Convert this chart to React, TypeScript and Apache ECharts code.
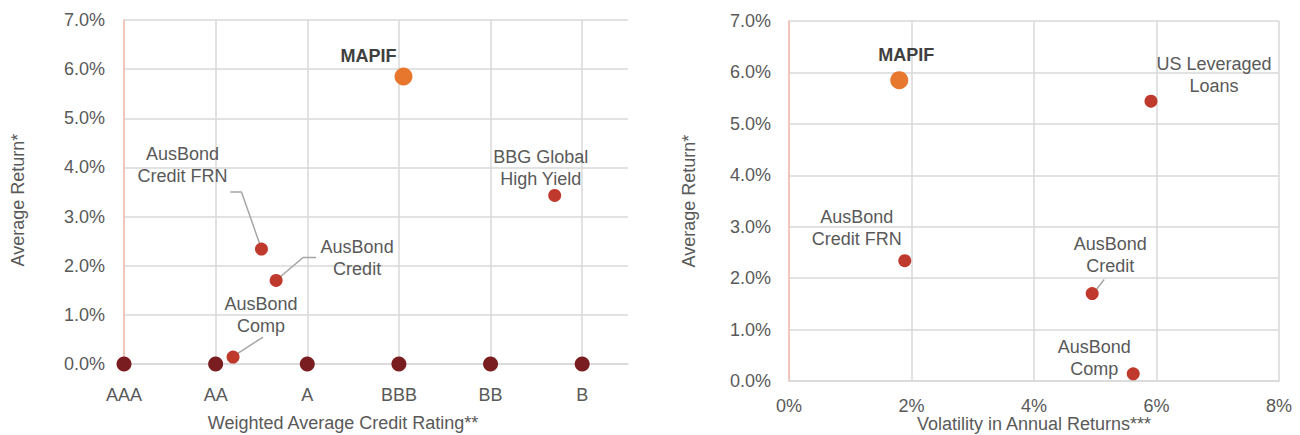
import React, { useEffect, useRef } from "react";
import * as echarts from "echarts";

// Credit rating scale shown along the left chart's x axis
const ratingScale = ["AAA", "AA", "A", "BBB", "BB", "B"];
const ratingMarkerReturns = [0, 0, 0, 0, 0, 0];

// Funds and indices shared by both charts (returns in %)
const fundNames = ["MAPIF", "AusBond\nCredit FRN", "AusBond\nCredit", "AusBond\nComp"];
const fundReturns = [5.85, 2.34, 1.7, 0.14];
const fundRatings = [3.05, 1.5, 1.66, 1.19];
const fundVolatility = [1.8, 1.89, 4.95, 5.62];

// Extra comparison index on each chart
const highYieldName = "BBG Global\nHigh Yield";
const highYieldRating = 4.7;
const highYieldReturn = 3.43;

const leveragedName = "US Leveraged\nLoans";
const leveragedVolatility = 5.91;
const leveragedReturn = 5.44;

// Axis tick settings
const returnMin = 0;
const returnMax = 7;
const returnStep = 1;
const volatilityMin = 0;
const volatilityMax = 8;
const volatilityStep = 2;

// Label placement (pixel offsets from each marker)
const leftLabelOffsets: Record<string, number[]> = {
  MAPIF: [-35, -21],
  "AusBond\nCredit FRN": [-79, -84],
  "AusBond\nCredit": [81, -22],
  "AusBond\nComp": [28, -42],
  "BBG Global\nHigh Yield": [-14, -27],
};
const rightLabelOffsets: Record<string, number[]> = {
  MAPIF: [7, -25],
  "AusBond\nCredit FRN": [-48, -33],
  "AusBond\nCredit": [18, -39],
  "AusBond\nComp": [-39, -16],
  "US Leveraged\nLoans": [63, -26],
};
// Leader lines (pixel offsets from each marker)
const leftLeaders: Record<string, number[][]> = {
  "AusBond\nCredit FRN": [[-1, -3], [-20, -57], [-31, -57]],
  "AusBond\nCredit": [[1, -1], [27, -23], [40, -23]],
  "AusBond\nComp": [[2, -2], [30, -20]],
};
const rightLeaders: Record<string, number[][]> = {
  "AusBond\nCredit": [[1, 0], [12, -14]],
};

const FONT = "'Liberation Sans', Arial, sans-serif";
const TEXT = "#595959";
const GRID = "#D9D9D9";
const AXIS_ACCENT = "#F4BDAE";
const ORANGE = "#E8772E";
const RED = "#C0392D";
const MAROON = "#7A1D21";

function labelFor(name: string, offsets: Record<string, number[]>) {
  const bold = name === "MAPIF";
  return {
    show: true,
    position: "inside",
    formatter: name,
    offset: offsets[name] || [0, 0],
    fontFamily: FONT,
    fontSize: 18,
    lineHeight: 22,
    fontWeight: bold ? "bold" : "normal",
    color: bold ? "#404040" : TEXT,
    align: "center",
    verticalAlign: "middle",
  };
}

export default function App() {
  const ref = useRef<HTMLDivElement>(null);

  useEffect(() => {
    if (!ref.current) return;
    const chart = echarts.init(ref.current, undefined, { renderer: "svg" });

    const axisLabel = { fontFamily: FONT, fontSize: 18, lineHeight: 18, color: TEXT };
    const nameStyle = { fontFamily: FONT, fontSize: 18, lineHeight: 18, color: TEXT };
    const split = { show: true, lineStyle: { color: GRID, width: 1.5 } };

    const leftPoints = fundNames.map((n, i) => ({
      name: n,
      value: [fundRatings[i], fundReturns[i]],
    }));
    leftPoints.push({ name: highYieldName, value: [highYieldRating, highYieldReturn] });
    const rightPoints = fundNames.map((n, i) => ({
      name: n,
      value: [fundVolatility[i], fundReturns[i]],
    }));
    rightPoints.push({ name: leveragedName, value: [leveragedVolatility, leveragedReturn] });

    const decorate = (pts: { name: string; value: number[] }[], offsets: Record<string, number[]>) =>
      pts.map((p) => ({
        name: p.name,
        value: p.value,
        symbolSize: p.name === "MAPIF" ? 18 : 13,
        itemStyle: { color: p.name === "MAPIF" ? ORANGE : RED, opacity: 1 },
        label: labelFor(p.name, offsets),
      }));

    chart.setOption({
      animation: false,
      backgroundColor: "#ffffff",
      grid: [
        { left: 124, top: 20, width: 504, height: 344, outerBoundsMode: "none", containLabel: false },
        { left: 789, top: 21, width: 490, height: 360, outerBoundsMode: "none", containLabel: false },
      ],
      xAxis: [
        {
          type: "value",
          gridIndex: 0,
          min: 0,
          max: 5.5,
          interval: 1,
          axisLine: { show: true, lineStyle: { color: GRID, width: 1.5 } },
          axisTick: { show: false },
          splitLine: { ...split, showMaxLine: false },
          axisLabel: {
            ...axisLabel,
            margin: 22,
            showMaxLabel: false,
            formatter: (v: number) => (Number.isInteger(v) ? ratingScale[v] ?? "" : ""),
          },
          name: "Weighted Average Credit Rating**",
          nameLocation: "middle",
          nameGap: 50,
          nameMoveOverlap: false,
          nameTextStyle: { ...nameStyle, padding: [0, 66, 0, 0] },
        },
        {
          type: "value",
          gridIndex: 1,
          min: volatilityMin,
          max: volatilityMax,
          interval: volatilityStep,
          axisLine: { show: true, lineStyle: { color: GRID, width: 1.5 } },
          axisTick: { show: false },
          splitLine: split,
          axisLabel: { ...axisLabel, margin: 16, formatter: (v: number) => `${v}%` },
          name: "Volatility in Annual Returns***",
          nameLocation: "middle",
          nameGap: 34,
          nameMoveOverlap: false,
          nameTextStyle: nameStyle,
        },
      ],
      yAxis: [
        {
          type: "value",
          gridIndex: 0,
          min: returnMin,
          max: returnMax,
          interval: returnStep,
          axisLine: { show: true, lineStyle: { color: AXIS_ACCENT, width: 1.5 } },
          axisTick: { show: false },
          splitLine: split,
          axisLabel: { ...axisLabel, margin: 19, formatter: (v: number) => `${v.toFixed(1)}%` },
          name: "Average Return*",
          nameLocation: "middle",
          nameRotate: 90,
          nameGap: 97,
          nameMoveOverlap: false,
          nameTextStyle: { ...nameStyle, padding: [0, 16, 0, 0] },
        },
        {
          type: "value",
          gridIndex: 1,
          min: returnMin,
          max: returnMax,
          interval: returnStep,
          axisLine: { show: true, lineStyle: { color: AXIS_ACCENT, width: 1.5 } },
          axisTick: { show: false },
          splitLine: split,
          axisLabel: { ...axisLabel, margin: 18, formatter: (v: number) => `${v.toFixed(1)}%` },
          name: "Average Return*",
          nameLocation: "middle",
          nameRotate: 90,
          nameGap: 91,
          nameMoveOverlap: false,
          nameTextStyle: nameStyle,
        },
      ],
      series: [
        {
          type: "scatter",
          xAxisIndex: 0,
          yAxisIndex: 0,
          symbolSize: 15,
          itemStyle: { color: MAROON, opacity: 1 },
          data: ratingMarkerReturns.map((r, i) => [i, r]),
          z: 3,
        },
        {
          type: "scatter",
          xAxisIndex: 0,
          yAxisIndex: 0,
          data: decorate(leftPoints, leftLabelOffsets),
          z: 4,
        },
        {
          type: "scatter",
          xAxisIndex: 1,
          yAxisIndex: 1,
          data: decorate(rightPoints, rightLabelOffsets),
          z: 4,
        },
      ],
    });

    // Leader lines anchored to each marker's pixel position
    const leaders: any[] = [];
    const addLeaders = (
      pts: { name: string; value: number[] }[],
      defs: Record<string, number[][]>,
      axisIndex: number
    ) => {
      pts.forEach((p) => {
        const rel = defs[p.name];
        if (!rel) return;
        const px = chart.convertToPixel({ xAxisIndex: axisIndex, yAxisIndex: axisIndex }, p.value) as number[];
        leaders.push({
          type: "polyline",
          z: 3,
          silent: true,
          shape: { points: rel.map(([dx, dy]) => [px[0] + dx, px[1] + dy]) },
          style: { stroke: "#A6A6A6", lineWidth: 1.5, fill: null },
        });
      });
    };
    addLeaders(leftPoints, leftLeaders, 0);
    addLeaders(rightPoints, rightLeaders, 1);
    chart.setOption({ graphic: leaders });

    return () => chart.dispose();
  }, []);

  return (
    <div
      ref={ref}
      style={{ position: "fixed", left: 0, top: 0, width: 1300, height: 435, background: "#fff" }}
    />
  );
}
